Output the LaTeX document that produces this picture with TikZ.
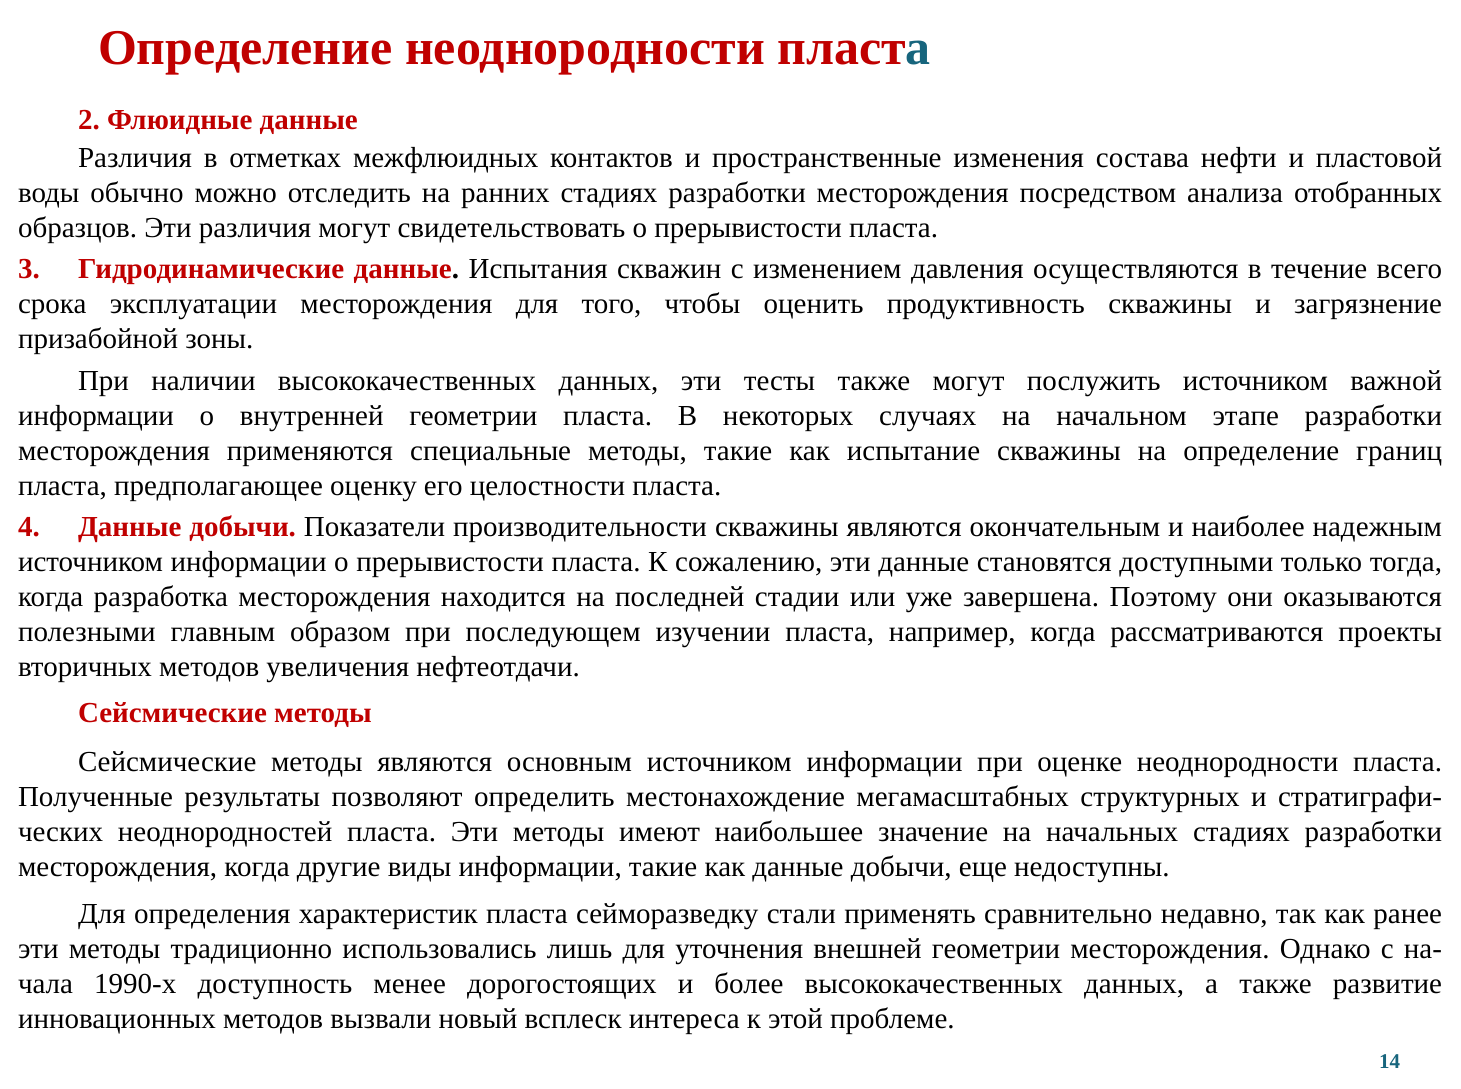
\documentclass[tikz,border=0pt]{standalone}
\usepackage{fontspec}
\setmainfont{Liberation Serif}
\definecolor{hred}{HTML}{C00000}
\definecolor{hteal}{HTML}{17657D}
\newcommand\bodyfont{\fontsize{29}{35}\selectfont\frenchspacing}
\newcommand\jline[2]{\makebox[#1][s]{#2}}
\newcommand\rb[1]{{\bfseries\color{hred}#1}}
\tikzset{
  ln/.style={anchor=base west, inner sep=0pt, outer sep=0pt, font=\bodyfont, text=black},
  hd/.style={ln, font=\bodyfont\bfseries, text=hred},
  ttl/.style={anchor=base west, inner sep=0pt, outer sep=0pt, font=\fontsize{50}{60}\selectfont\bfseries, text=hred},
  pgnum/.style={anchor=base west, inner sep=0pt, outer sep=0pt, font=\fontsize{21}{24}\selectfont\bfseries, text=hteal}
}
\begin{document}
\begin{tikzpicture}[x=1pt,y=1pt]
\useasboundingbox (0,0) rectangle (1461,-1089);
\fill[white] (0,0) rectangle (1461,-1089);
\node[ttl] (title) at (98,-65) {Определение неоднородности пласт\textcolor{hteal}{а}};
\node[hd] (h2) at (78,-130) {2. Флюидные данные};
\node[ln] (a1) at (78,-167) {\jline{1364pt}{Различия в отметках межфлюидных контактов и пространственные изменения состава нефти и пластовой}};
\node[ln] (a2) at (18,-202) {\jline{1424pt}{воды обычно можно отследить на ранних стадиях разработки месторождения посредством анализа отобранных}};
\node[ln] (a3) at (18,-237) {образцов. Эти различия могут свидетельствовать о прерывистости пласта.};
\node[hd] (n3) at (18,-278) {3.};
\node[ln] (b1) at (78,-278) {\jline{1364pt}{\rb{Гидродинамические данные}\textbf{.} Испытания скважин с изменением давления осуществляются в течение всего}};
\node[ln] (b2) at (18,-313) {\jline{1424pt}{срока эксплуатации месторождения для того, чтобы оценить продуктивность скважины и загрязнение}};
\node[ln] (b3) at (18,-348) {призабойной зоны.};
\node[ln] (c1) at (78,-390) {\jline{1364pt}{При наличии высококачественных данных, эти тесты также могут послужить источником важной}};
\node[ln] (c2) at (18,-425) {\jline{1424pt}{информации о внутренней геометрии пласта. В некоторых случаях на начальном этапе разработки}};
\node[ln] (c3) at (18,-460) {\jline{1424pt}{месторождения применяются специальные методы, такие как испытание скважины на определение границ}};
\node[ln] (c4) at (18,-495) {пласта, предполагающее оценку его целостности пласта.};
\node[hd] (n4) at (18,-536) {4.};
\node[ln] (d1) at (78,-536) {\jline{1364pt}{\rb{Данные добычи.} Показатели производительности скважины являются окончательным и наиболее надежным}};
\node[ln] (d2) at (18,-571) {\jline{1424pt}{источником информации о прерывистости пласта. К сожалению, эти данные становятся доступными только тогда,}};
\node[ln] (d3) at (18,-606) {\jline{1424pt}{когда разработка месторождения находится на последней стадии или уже завершена. Поэтому они оказываются}};
\node[ln] (d4) at (18,-641) {\jline{1424pt}{полезными главным образом при последующем изучении пласта, например, когда рассматриваются проекты}};
\node[ln] (d5) at (18,-676) {вторичных методов увеличения нефтеотдачи.};
\node[hd] (hs) at (78,-722) {Сейсмические методы};
\node[ln] (e1) at (78,-771) {\jline{1364pt}{Сейсмические методы являются основным источником информации при оценке неоднородности пласта.}};
\node[ln] (e2) at (18,-806) {\jline{1424pt}{Полученные результаты позволяют определить местонахождение мегамасштабных структурных и стратиграфи-}};
\node[ln] (e3) at (18,-841) {\jline{1424pt}{ческих неоднородностей пласта. Эти методы имеют наибольшее значение на начальных стадиях разработки}};
\node[ln] (e4) at (18,-876) {месторождения, когда другие виды информации, такие как данные добычи, еще недоступны.};
\node[ln] (f1) at (78,-923) {\jline{1364pt}{Для определения характеристик пласта сейморазведку стали применять сравнительно недавно, так как ранее}};
\node[ln] (f2) at (18,-958) {\jline{1424pt}{эти методы традиционно использовались лишь для уточнения внешней геометрии месторождения. Однако с на-}};
\node[ln] (f3) at (18,-993) {\jline{1424pt}{чала 1990-х доступность менее дорогостоящих и более высококачественных данных, а также развитие}};
\node[ln] (f4) at (18,-1028) {инновационных методов вызвали новый всплеск интереса к этой проблеме.};
\node[pgnum] (pg) at (1379,-1068) {14};
\end{tikzpicture}
\end{document}
